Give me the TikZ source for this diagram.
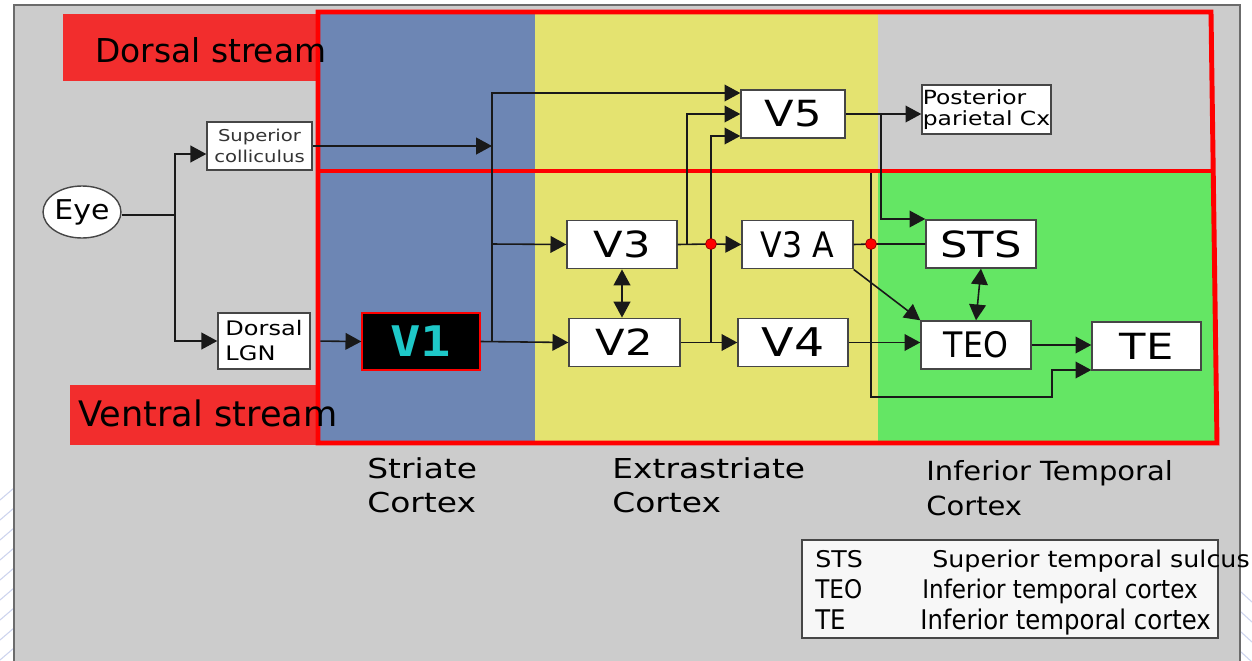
\documentclass[tikz,border=0pt]{standalone}
\usepackage{fontspec}
\setmainfont{DejaVu Sans}
\newfontfamily\widefont[FakeStretch=1.2]{DejaVu Sans}
\newfontfamily\midfont[FakeStretch=1.1]{DejaVu Sans}
\newfontfamily\condfont[FakeStretch=0.9]{DejaVu Sans}
\newfontfamily\vonefont[FakeStretch=1.2]{DejaVu Sans Mono}
\newcommand{\pxsize}[2]{\fontsize{#1}{#2}\selectfont}
\definecolor{panelgray}{RGB}{204,204,204}
\definecolor{striateblue}{RGB}{109,134,180}
\definecolor{extrayellow}{RGB}{228,227,112}
\definecolor{itgreen}{RGB}{100,230,100}
\definecolor{labelred}{RGB}{242,45,45}
\definecolor{vonecyan}{RGB}{30,200,200}
\definecolor{boxline}{RGB}{70,70,70}
\definecolor{faintblue}{RGB}{205,212,238}
\usetikzlibrary{
  shapes.geometric,
  arrows.meta,
  positioning,
  calc
}

\begin{document}
\begin{tikzpicture}[
  x=0.02cm, y=-0.02cm,
  box/.style={rectangle, draw=boxline, line width=0.8pt, fill=white, inner sep=0pt, minimum width=2.2cm, minimum height=0.97cm},
  vlabel/.style={font=\widefont\pxsize{20.5pt}{23pt}},
  link/.style={line width=0.9pt, black!90},
  arr/.style={-{Triangle[length=9pt,width=9.5pt]}, line width=0.9pt, black!90},
  dblarr/.style={{Triangle[length=9pt,width=9.5pt]}-{Triangle[length=9pt,width=9.5pt]}, line width=0.9pt, black!90},
  dot/.style={circle, fill=red, draw=red!55!black, line width=0.4pt, inner sep=0pt, minimum size=0.22cm},
  frame/.style={draw=red, line width=2.8pt},
  streamlbl/.style={anchor=base west, inner sep=0pt},
  cortexlbl/.style={anchor=north west, inner sep=0pt, align=left},
  keytext/.style={anchor=base west, inner sep=0pt}
]
  \useasboundingbox (0,0) rectangle (1252,660);
  \fill[white] (0,0) rectangle (1252,660);

  % faint slide background at the margins
  \foreach \k in {0,...,8}
    \draw[faintblue, line width=0.6pt] (0,500+\k*20) -- (14,488+\k*20);
  \foreach \k in {0,...,3}
    \draw[faintblue, line width=0.6pt] (1241,592+\k*20) -- (1252,602+\k*20);

  % panel and cortex areas
  \filldraw[fill=panelgray, draw=boxline!80, line width=0.8pt] (14,5) rectangle (1240,680);
  \fill[striateblue] (318,12) rectangle (535,443);
  \fill[extrayellow] (535,12) rectangle (878,443);
  \fill[itgreen] (878,171) -- (1213,171) -- (1217,443) -- (878,443) -- cycle;

  % stream labels and frames
  \fill[labelred] (63,14) rectangle (318,81);
  \fill[labelred] (70,385) rectangle (318,445);
  \draw[frame] (318,12) -- (1211,12) -- (1217,443) -- (318,443) -- cycle;
  \draw[frame] (318,171) -- (1213,171);
  \node[streamlbl, font=\pxsize{18.7pt}{22pt}] (dorsal) at (95,62) {Dorsal stream};
  \node[streamlbl, font=\pxsize{20pt}{23pt}] (ventral) at (78,426) {Ventral stream};

  % areas
  \node[ellipse, draw=boxline, line width=0.8pt, fill=white, inner sep=0pt, minimum width=1.4cm, minimum height=1.04cm, font=\midfont\pxsize{15.5pt}{17pt}] (eye) at (82,212) {Eye};
  \node[box, minimum width=2.1cm, minimum height=0.96cm, align=center, text=black!80, font=\widefont\pxsize{9.3pt}{11.6pt}] (sc) at (259.5,146) {Superior\\colliculus};
  \node[box, minimum width=1.84cm, minimum height=1.12cm, align=left, font=\widefont\pxsize{11.4pt}{14.2pt}] (lgn) at (264,341) {Dorsal\\LGN};
  \node[box, fill=black, draw=red, minimum width=2.36cm, minimum height=1.14cm, text=vonecyan, font=\vonefont\bfseries\pxsize{24pt}{26pt}] (v1) at (421,341.5) {V1};
  \node[box, vlabel, minimum width=2.08cm, minimum height=0.96cm] (v5) at (793,114) {V5};
  \node[box, minimum width=2.58cm, minimum height=0.98cm, align=left, font=\widefont\pxsize{11.1pt}{11.6pt}] (ppc) at (986.5,109.5) {Posterior\\parietal Cx};
  \node[box, vlabel] (v3) at (622,244.5) {V3};
  \node[box, minimum width=2.22cm, font=\condfont\pxsize{20pt}{23pt}] (v3a) at (797.5,244.5) {V3 A};
  \node[box, vlabel, minimum height=0.96cm] (sts) at (981,244) {STS};
  \node[box, vlabel, minimum width=2.22cm] (v2) at (624.5,342.5) {V2};
  \node[box, minimum width=2.2cm, font=\widefont\pxsize{22.5pt}{25pt}] (v4) at (793,342.5) {V4};
  \node[box, minimum height=0.96cm, font=\condfont\pxsize{20pt}{23pt}] (teo) at (976,345) {TEO};
  \node[box, vlabel, minimum width=2.18cm, minimum height=0.96cm] (te) at (1146.5,346) {TE};

  % junctions
  \coordinate (jeye) at (175,215);
  \coordinate (jvone) at (492,244);
  \coordinate (jvthree) at (687,244);
  \coordinate (jvfive) at (881,114);
  \coordinate (jtop) at (871,173);
  \coordinate (jbot) at (1052,397);
  \coordinate (dA) at (711,244);
  \coordinate (dB) at (871,244);

  % connections
  \draw[link] (eye.east |- jeye) -- (jeye);
  \draw[arr] (jeye) |- ($(sc.west)+(0,8)$);
  \draw[arr] (jeye) |- (lgn.west);
  \draw[arr] (sc.east) -- (sc.east -| jvone);
  \draw[arr, shorten <=5.5pt] (lgn.east) -- (v1.west);
  \draw[arr] (v1.east) -- (v2.west);
  \draw[arr] (jvone |- v1.east) |- ($(v5.west)+(0,-21)$);
  \draw[arr] (jvone) -- (v3.west);
  \draw[link] (v3.east) -- (dA);
  \draw[arr] (dA) -- (v3a.west);
  \draw[arr] (jvthree) |- (v5.west);
  \draw[arr] (dA |- v2.east) |- ($(v5.west)+(0,22)$);
  \draw[arr] (v2.east) -- (v4.west);
  \draw[dblarr] (v3.south) -- (v3.south |- v2.north);
  \draw[arr] (v5.east) -- (v5.east -| ppc.west);
  \draw[arr] (jvfive) |- ($(sts.west)+(0,-25)$);
  \draw[link] (v3a.east) -- (dB) -- (sts.west);
  \draw[arr] (jtop) |- (jbot) |- ($(te.west)+(0,24)$);
  \draw[arr] (v3a.south east) -- (teo.north west);
  \draw[dblarr] (sts.south) -- (teo.north);
  \draw[arr] (v4.east) -- (v4.east -| teo.west);
  \draw[arr] (teo.east) -- (teo.east -| te.west);
  \node[dot] (dotA) at (dA) {};
  \node[dot] (dotB) at (dB) {};

  % cortex names
  \node[cortexlbl, font=\widefont\pxsize{15.6pt}{19.3pt}] (striate) at (367,457) {Striate\\Cortex};
  \node[cortexlbl, font=\widefont\pxsize{15.6pt}{19.3pt}] (extra) at (612,457) {Extrastriate\\Cortex};
  \node[cortexlbl, font=\midfont\pxsize{15pt}{20pt}] (itc) at (926,460) {Inferior Temporal\\Cortex};

  % key
  \node[rectangle, draw=boxline, line width=0.9pt, fill=white!97!black, minimum width=8.32cm, minimum height=1.96cm, inner sep=0pt] (key) at (1010,589) {};
  \node[keytext, font=\midfont\pxsize{13.1pt}{15pt}] (keysts) at (815,567) {STS};
  \node[keytext, font=\midfont\pxsize{13.1pt}{15pt}] (keystsname) at (932,567) {Superior temporal sulcus};
  \node[keytext, font=\condfont\pxsize{14.6pt}{16pt}] (keyteo) at (815,598) {TEO};
  \node[keytext, font=\condfont\pxsize{14.6pt}{16pt}] (keyteoname) at (922,598) {Inferior temporal cortex};
  \node[keytext, font=\condfont\pxsize{15.4pt}{17pt}] (keyte) at (815,629) {TE};
  \node[keytext, font=\condfont\pxsize{15.4pt}{17pt}] (keytename) at (920,629) {Inferior temporal cortex};
\end{tikzpicture}
\end{document}
